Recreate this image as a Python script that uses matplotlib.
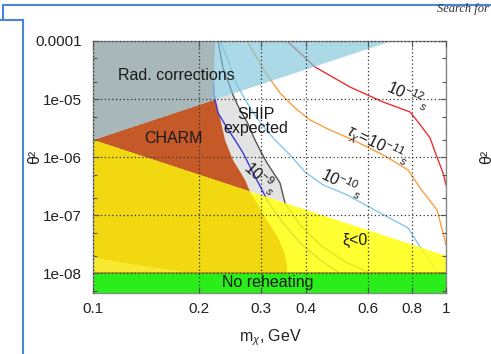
import matplotlib
matplotlib.use("Agg")
import matplotlib.pyplot as plt
from matplotlib.lines import Line2D
from matplotlib.ticker import LogLocator, NullFormatter, NullLocator

plt.rcParams["font.family"] = ["Liberation Sans", "DejaVu Sans"]
plt.rcParams["mathtext.fontset"] = "custom"
plt.rcParams["mathtext.rm"] = "Liberation Sans"
plt.rcParams["mathtext.it"] = "Liberation Sans:italic"

W, H = 491, 354

# axis ticks
x_ticks = [0.1, 0.2, 0.3, 0.4, 0.6, 0.8, 1.0]
x_labels = ["0.1", "0.2", "0.3", "0.4", "0.6", "0.8", "1"]
y_ticks = [1e-8, 1e-7, 1e-6, 1e-5, 1e-4]
y_labels = ["1e-08", "1e-07", "1e-06", "1e-05", "0.0001"]
x_lim = (0.1, 1.0)
y_lim = (4.6e-9, 1e-4)

# regions: m_chi [GeV], theta^2
rad_m = [0.1, 0.7031, 0.1]
rad_th = [1e-4, 1e-4, 1.97e-6]
rad_dark_m = [0.1, 0.2216, 0.2188, 0.1]
rad_dark_th = [1e-4, 1e-4, 9.53e-6, 1.97e-6]

charm_m = [0.1, 0.2216, 0.2290, 0.2366, 0.2492, 0.2696, 0.2786]
charm_th = [1.97e-6, 9.8e-6, 4.72e-6, 1.97e-6, 8.93e-7, 4.04e-7, 2.53e-7]

ship_m = [0.2216, 0.2290, 0.2366, 0.2492, 0.2696, 0.2786, 0.3499,
          0.3387, 0.3111, 0.2992, 0.2877, 0.2732, 0.2608, 0.2492]
ship_th = [9.8e-6, 4.72e-6, 1.97e-6, 8.93e-7, 4.04e-7, 2.53e-7, 1.62e-7,
           3.59e-7, 7.93e-7, 1.23e-6, 1.97e-6, 4.03e-6, 6.49e-6, 1.24e-5]

xi_m = [0.1, 1.0, 1.0, 0.1]
xi_th = [1.97e-6, 1.99e-8, 1e-8, 1e-8]

gold_m = [0.1, 0.2786, 0.2934, 0.3132, 0.3343, 0.3476, 0.3545, 0.3545,
          0.1883, 0.1315, 0.1]
gold_th = [1.97e-6, 2.53e-7, 1.50e-7, 7.65e-8, 4.05e-8, 2.33e-8, 1.39e-8,
           1e-8, 1e-8, 1.39e-8, 1.84e-8]

wedge_m = [0.1, 0.1315, 0.1883, 0.1]
wedge_th = [1.84e-8, 1.39e-8, 1e-8, 1e-8]

no_reheat_th = 1e-8

# lifetime / sensitivity curves
ship_line_m = [0.2261, 0.2335, 0.2492, 0.2608, 0.2732, 0.2877, 0.2992, 0.3111,
               0.3387, 0.3499, 0.3858, 0.4398, 0.5174, 0.6092]
ship_line_th = [1e-4, 3.43e-5, 1.18e-5, 6.49e-6, 4.03e-6, 1.97e-6, 1.23e-6,
                7.93e-7, 3.59e-7, 1.62e-7, 6.79e-8, 3.07e-8, 1.57e-8, 1e-8]

tau9_m = [0.2188, 0.2188, 0.2202, 0.2261, 0.2397, 0.2525, 0.2661, 0.2841,
          0.3012, 0.3132, 0.3454, 0.3858, 0.4398, 0.5008]
tau9_th = [1e-4, 3.16e-5, 1.18e-5, 5.76e-6, 3.18e-6, 1.97e-6, 1.18e-6,
           5.34e-7, 2.72e-7, 1.69e-7, 7.35e-8, 3.33e-8, 1.69e-8, 1e-8]

tau10_m = [0.2290, 0.2412, 0.2558, 0.2786, 0.3012, 0.3278, 0.3615, 0.3986,
           0.4483, 0.5243, 0.6501, 0.7805, 0.8441, 0.9491]
tau10_th = [1e-4, 4.71e-5, 1.75e-5, 7.02e-6, 3.58e-6, 1.97e-6, 1.09e-6,
            5.55e-7, 3.32e-7, 2.23e-7, 1.09e-7, 6.03e-8, 2.84e-8, 1.01e-8]

tau11_m = [0.2732, 0.2915, 0.3111, 0.3387, 0.3735, 0.4118, 0.4692, 0.5452,
           0.6630, 0.7805, 0.8441, 0.9430, 0.9806, 1.0]
tau11_th = [1e-4, 5.10e-5, 2.60e-5, 1.27e-5, 7.02e-6, 4.36e-6, 2.93e-6,
            1.97e-6, 1.09e-6, 6.01e-7, 2.94e-7, 1.23e-7, 4.94e-8, 3.07e-8]

tau12_m = [0.3545, 0.3858, 0.4255, 0.5346, 0.6630, 0.7907, 0.8332, 0.9010,
           0.9308, 0.9806, 1.0]
tau12_th = [1e-4, 6.21e-5, 3.57e-5, 1.61e-5, 8.91e-6, 5.99e-6, 4.03e-6,
            2.14e-6, 1.23e-6, 5.34e-7, 3.32e-7]


def px(x, y):
    return x / W, 1 - y / H


fig = plt.figure(figsize=(W / 100, H / 100), dpi=100)
ax = fig.add_axes([93 / W, 1 - 292.7 / H, (446 - 93) / W, (292.7 - 41) / H])
ax.set_xscale("log")
ax.set_yscale("log")

ax.fill(ship_m, ship_th, color="#e3e3e3", lw=0, zorder=1.0)
ax.fill(charm_m, charm_th, color="#c55a28", lw=0, zorder=1.0)

ax.plot(ship_line_m, ship_line_th, color="#555555", lw=1.0, zorder=1.2)
ax.plot(tau9_m, tau9_th, color="#3a3ae0", lw=1.0, zorder=1.2)
ax.plot(tau10_m, tau10_th, color="#88c8ec", lw=1.0, zorder=1.2)
ax.plot(tau11_m, tau11_th, color="#f8a040", lw=1.0, zorder=1.2)
ax.plot(tau12_m, tau12_th, color="#ee3030", lw=1.0, zorder=1.2)

ax.fill(xi_m, xi_th, color="#ffff0e", alpha=0.85, lw=0, zorder=1.4)
ax.fill(gold_m, gold_th, color="#f2d810", lw=0, zorder=1.5)
ax.fill(wedge_m, wedge_th, color="#f8e830", lw=0, zorder=1.5)
ax.fill(rad_m, rad_th, color="#7fc6db", alpha=0.65, lw=0, zorder=1.6)
ax.fill(rad_dark_m, rad_dark_th, color="#a8b7ba", lw=0, zorder=1.7)
ax.axhspan(y_lim[0], no_reheat_th, color="#2aee1a", lw=0, zorder=1.8)
ax.axhline(no_reheat_th, color="#9a9a10", lw=1.2, zorder=1.85)

ax.set_xlim(*x_lim)
ax.set_ylim(*y_lim)
ax.set_xticks(x_ticks, labels=x_labels)
ax.xaxis.set_minor_locator(NullLocator())
ax.set_yticks(y_ticks, labels=y_labels)
ax.yaxis.set_minor_locator(LogLocator(base=10, subs=(2, 5)))
ax.yaxis.set_minor_formatter(NullFormatter())
ax.tick_params(which="both", direction="in", top=True, right=True,
               color="#555555", labelsize=11, labelcolor="#222222")
ax.tick_params(which="major", length=4.5, width=0.8)
ax.tick_params(which="minor", length=3, width=0.8)
ax.tick_params(axis="x", pad=7)
ax.tick_params(axis="y", pad=8)
ax.grid(True, which="major", linestyle=(0, (1, 2)), color="#333333", lw=0.9)
ax.set_axisbelow(False)
for s in ax.spines.values():
    s.set_color("#888888")
    s.set_linewidth(1.0)

txt = dict(fontsize=11.5, color="#1a1a1a", ha="center", va="center", zorder=3)
ax.text(0.1724, 2.55e-5, "Rad. corrections", **txt)
ax.text(0.1696, 2.05e-6, "CHARM", **txt)
ax.text(0.2886, 4.11e-6, "SHIP\nexpected", linespacing=0.85, **txt)
ax.text(0.5524, 3.6e-8, "ξ<0", **txt)
ax.text(0.3133, 6.82e-9, "No reheating", **txt)
ax.text(0.7805, 1.18e-5, r"$\mathit{10^{-12}{}_s}$", rotation=-24, **txt)
ax.text(0.6418, 1.62e-6, r"$\mathit{\tau_\chi\!=\!10^{-11}{}_s}$", rotation=-26, **txt)
ax.text(0.5074, 3.59e-7, r"$\mathit{10^{-10}{}_s}$", rotation=-26, **txt)
ax.text(0.2992, 4.38e-7, r"$\mathit{10^{-9}{}_s}$", rotation=-42, **txt)

fig.text(*px(35, 157), "θ²", rotation=90, ha="center", va="center",
         fontsize=11.5, color="#222222")
fig.text(*px(270, 338), r"m$_\chi$, GeV", ha="center", va="center",
         fontsize=11.5, color="#222222")

# page frame and neighbouring text around the figure
blue = "#4a86d8"
for xs, ys in [((3, 491), (5, 5)), ((3, 3), (5, 18)), ((0, 23), (20, 20)),
               ((23, 23), (20, 354))]:
    fig.add_artist(Line2D([x / W for x in xs], [1 - y / H for y in ys],
                          color=blue, lw=1.5))
fig.text(*px(437, 9), "Search for", family="Liberation Serif", style="italic",
         fontsize=9, ha="left", va="center", color="#333333")
fig.text(*px(487, 157), "θ²", rotation=90, ha="center", va="center",
         fontsize=11.5, color="#222222")

fig.savefig("out.png", dpi=100)
